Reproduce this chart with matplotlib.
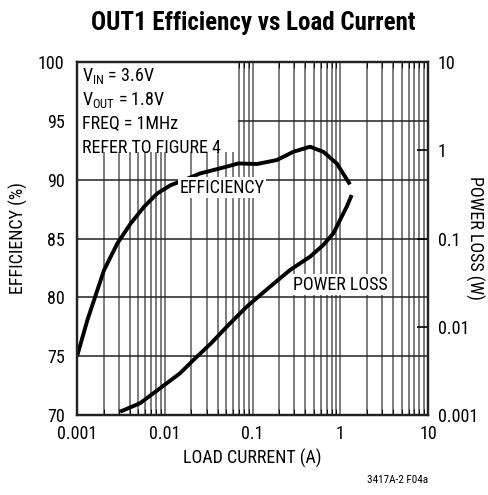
"""OUT1 efficiency and power loss vs load current."""

import matplotlib
matplotlib.use("Agg")
import matplotlib.pyplot as plt
from matplotlib import font_manager
from matplotlib.ticker import LogLocator, NullFormatter, FixedLocator
from matplotlib.patches import Rectangle

installed = {f.name for f in font_manager.fontManager.ttflist}
for fam in ['Liberation Sans Narrow', 'Roboto Condensed', 'Open Sans Condensed',
            'Liberation Sans']:
    if fam in installed:
        break
plt.rcParams['font.family'] = [fam, 'DejaVu Sans']
narrow = fam != 'Liberation Sans'

# efficiency curve (left axis)
eff_current = [0.001, 0.00131, 0.00156, 0.00203, 0.00288, 0.00409, 0.0058,
               0.00822, 0.0117, 0.0166, 0.0252, 0.0426, 0.0689, 0.112,
               0.189, 0.292, 0.452, 0.641, 0.912, 1.29]
eff_pct = [75.0, 78.07, 79.77, 82.32, 84.59, 86.29, 87.7,
           88.84, 89.54, 89.97, 90.53, 90.96, 91.38, 91.33,
           91.67, 92.37, 92.8, 92.37, 91.38, 89.6]

# power loss curve (right axis)
loss_current = [0.00309, 0.00522, 0.00883, 0.0149, 0.0212, 0.0337, 0.0508,
                0.0859, 0.158, 0.268, 0.452, 0.641, 0.834, 0.994, 1.184, 1.35]
loss_watts = [0.00109, 0.00136, 0.00201, 0.00297, 0.0042, 0.0065, 0.0100,
              0.0169, 0.0284, 0.044, 0.0622, 0.0844, 0.1145, 0.162, 0.229,
              0.311]

eff_ticks = [70, 75, 80, 85, 90, 95, 100]
loss_ticks = [0.001, 0.01, 0.1, 1, 10]
loss_tick_labels = ["0.001", "0.01", "0.1", "1", "10"]
x_ticks = [0.001, 0.01, 0.1, 1, 10]
x_tick_labels = ["0.001", "0.01", "0.1", "1", "10"]

fs = 13 if narrow else 12
title_fs = 18 if narrow else 15.5

fig = plt.figure(figsize=(4.88, 4.95), dpi=100)
ax = fig.add_axes([0.158, 0.1616, 0.719, 0.7131])
ax2 = ax.twinx()

ax.set_xscale("log")
ax.set_xlim(0.001, 10)
ax.set_ylim(70, 100)
ax2.set_yscale("log")
ax2.set_ylim(0.001, 10)

# grid
ax.xaxis.set_major_locator(FixedLocator(x_ticks))
ax.xaxis.set_minor_locator(LogLocator(base=10, subs=range(2, 10)))
ax.xaxis.set_minor_formatter(NullFormatter())
ax.set_xticklabels(x_tick_labels)
ax.set_yticks(eff_ticks)
ax.grid(True, which="major", axis="y", color="#222222", lw=1.1)
ax.grid(True, which="both", axis="x", color="#666666", lw=1.2)
ax.set_axisbelow(True)

ax.tick_params(axis="both", which="both", length=0, labelsize=fs)
ax.tick_params(axis="y", pad=9)
ax.tick_params(axis="x", pad=7)
ax.tick_params(axis="x", which="minor", top=True, direction="in", length=4)

ax2.set_yticks(loss_ticks)
ax2.set_yticklabels(loss_tick_labels)
ax2.yaxis.set_minor_formatter(NullFormatter())
ax2.tick_params(axis="y", which="major", direction="in", length=8, width=1.2,
                labelsize=fs, pad=7)
ax2.tick_params(axis="y", which="minor", length=0)

for a in (ax, ax2):
    for s in a.spines.values():
        s.set_linewidth(1.6)
        s.set_color("#222222")

# white box behind conditions text
ax.add_patch(Rectangle((0, 0.745), 0.458, 0.255, transform=ax.transAxes,
                       facecolor="white", edgecolor="none", zorder=1.5))
cond = ["V$_{\\mathregular{IN}}$ = 3.6V", "V$_{\\mathregular{OUT}}$ = 1.8V",
        "FREQ = 1MHz", "REFER TO FIGURE 4"]
for i, line in enumerate(cond):
    ax.text(0.014, 0.96 - i * 0.068, line, transform=ax.transAxes,
            fontsize=fs, va="center", ha="left", zorder=3)

ax.plot(eff_current, eff_pct, color="black", lw=2.8, zorder=4,
        solid_capstyle="butt", solid_joinstyle="round")
ax2.plot(loss_current, loss_watts, color="black", lw=2.8, zorder=4,
         solid_capstyle="butt", solid_joinstyle="round")

ax.text(0.045, 89.3, "EFFICIENCY", fontsize=fs, ha="center", va="center",
        zorder=5, bbox=dict(facecolor="white", edgecolor="none", pad=1))
ax2.text(0.99, 0.030, "POWER LOSS", fontsize=fs, ha="center", va="center",
         zorder=5, bbox=dict(facecolor="white", edgecolor="none", pad=1))

fig.text(252 / 488, 1 - 458 / 495, "LOAD CURRENT (A)", fontsize=fs,
         ha="center", va="center")
fig.text(18 / 488, 1 - 238 / 495, "EFFICIENCY (%)", fontsize=fs,
         ha="center", va="center", rotation=90)
fig.text(475 / 488, 1 - 238 / 495, "POWER LOSS (W)", fontsize=fs,
         ha="center", va="center", rotation=-90)

fig.suptitle("OUT1 Efficiency vs Load Current", fontsize=title_fs,
             fontweight="bold", x=253 / 488, y=0.978)
fig.text(0.878, 0.025, "3417A-2 F04a", fontsize=8, ha="right")

fig.savefig("out.png", dpi=100, facecolor="white")
